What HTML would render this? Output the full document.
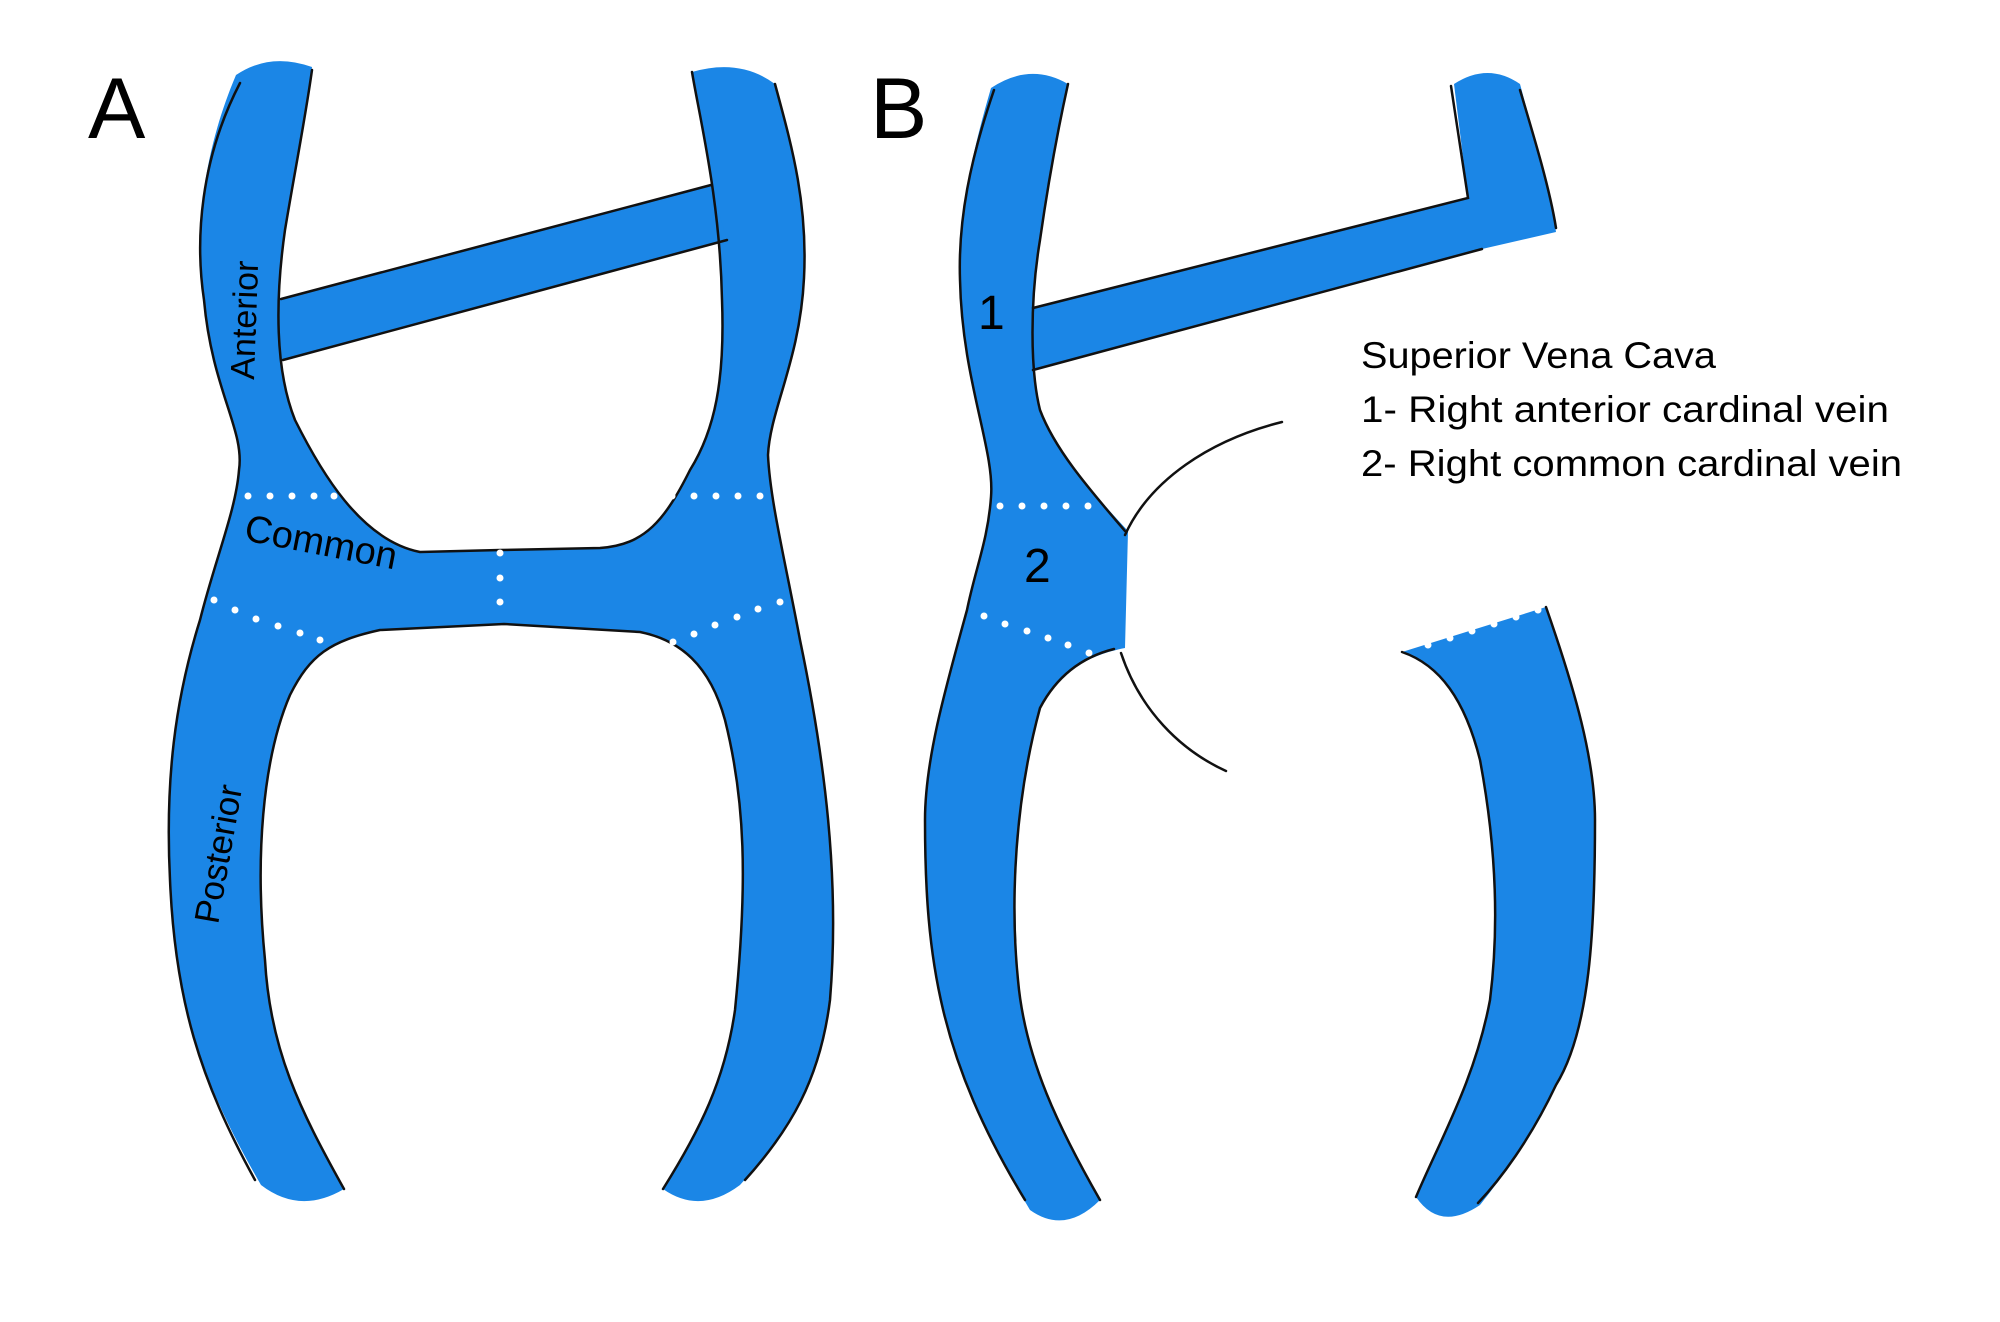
<!DOCTYPE html>
<html><head><meta charset="utf-8"><style>
html,body{margin:0;padding:0;background:#fff;}
svg{display:block;}
text{font-family:"Liberation Sans",sans-serif;fill:#000;}
</style></head><body>
<svg width="2000" height="1322" viewBox="0 0 2000 1322" xmlns="http://www.w3.org/2000/svg">
<g fill="#1b86e6">
<path d="M236,75 C200,160 195,240 204,300 C212,390 245,430 239,470 C236,510 215,560 200,620 C175,700 165,780 170,880 C175,1000 200,1080 261,1185 Q300,1215 344,1189 C300,1110 270,1050 265,960 C255,860 262,760 290,695 C310,655 330,641 380,630 L504,624 L640,632 C680,640 710,665 725,720 C745,800 748,880 735,1010 C725,1080 700,1130 663,1189 Q700,1215 740,1185 C790,1130 820,1080 830,1000 C840,880 825,760 800,640 C785,560 770,500 768,455 C770,410 800,360 804,278 C808,200 790,140 775,84 Q740,58 692,72 C700,120 720,200 722,300 C725,380 715,430 690,470 C665,520 645,545 600,548 L500,550 L420,552 C360,540 320,470 295,420 C275,370 275,300 285,230 C295,170 305,120 312,67 Q270,52 236,75 Z"/>
<path d="M278,299 L711,185 L727,240 L281,360 Z"/>
<path d="M991,88 C970,160 958,220 960,280 C962,380 995,450 991,497 C988,540 975,570 967,610 C945,690 925,760 925,820 C925,960 940,1060 1030,1210 Q1065,1235 1100,1200 C1060,1130 1025,1060 1018,980 C1010,900 1015,800 1040,708 C1060,670 1090,655 1125,648 L1128,531 C1090,490 1055,450 1040,410 C1030,370 1030,300 1040,240 C1050,170 1060,120 1068,84 Q1030,62 991,88 Z"/>
<path d="M1033,308 L1468,198 L1454,84 Q1488,62 1520,84 C1535,140 1550,190 1556,232 L1482,249 L1033,370 Z"/>
<path d="M1402,652 L1546,607 C1575,690 1595,760 1595,820 C1595,930 1590,1030 1556,1085 C1530,1140 1500,1180 1480,1205 Q1440,1232 1416,1197 C1440,1140 1475,1080 1490,1000 C1500,920 1495,840 1480,760 C1465,700 1440,665 1402,652 Z"/>
</g>
<g fill="none" stroke="#111" stroke-width="2.5" stroke-linecap="round">
<path d="M240,83 C200,160 195,240 204,300 C212,390 245,430 239,470 C236,510 215,560 200,620 C175,700 165,780 170,880 C175,1000 200,1080 255,1180"/>
<path d="M312,70 C305,120 295,170 285,230 C275,300 275,370 295,420 C320,470 360,540 420,552 L500,550 L600,548 C645,545 665,520 690,470 C715,430 725,380 722,300 C720,200 700,120 692,72"/>
<path d="M775,84 C790,140 808,200 804,278 C800,360 770,410 768,455 C770,500 785,560 800,640 C825,760 840,880 830,1000 C820,1080 790,1130 745,1180"/>
<path d="M344,1189 C300,1110 270,1050 265,960 C255,860 262,760 290,695 C310,655 330,641 380,630 L504,624 L640,632 C680,640 710,665 725,720 C745,800 748,880 735,1010 C725,1080 700,1130 663,1189"/>
<path d="M281,299 L711,185 M283,360 L727,240"/>
<path d="M994,90 C970,160 958,220 960,280 C962,380 995,450 991,497 C988,540 975,570 967,610 C945,690 925,760 925,820 C925,960 940,1060 1025,1200"/>
<path d="M1068,84 C1060,120 1050,170 1040,240 C1030,300 1030,370 1040,410 C1055,450 1090,490 1125,531"/>
<path d="M1114,649 C1090,655 1060,670 1040,708 C1015,800 1010,900 1018,980 C1025,1060 1060,1130 1100,1200"/>
<path d="M1033,308 L1468,198 L1451,86 M1520,90 C1535,140 1550,190 1556,228 M1033,370 L1482,249"/>
<path d="M1282,422 C1210,440 1150,480 1125,535 M1121,653 C1140,710 1180,750 1226,771"/>
<path d="M1546,607 C1575,690 1595,760 1595,820 C1595,930 1590,1030 1556,1085 C1530,1140 1500,1180 1478,1203"/>
<path d="M1402,652 C1440,665 1465,700 1480,760 C1495,840 1500,920 1490,1000 C1475,1080 1440,1140 1416,1197"/>
</g>
<g fill="#fff">
<circle cx="248" cy="496" r="3.5"/><circle cx="270" cy="496" r="3.5"/><circle cx="292" cy="496" r="3.5"/><circle cx="314" cy="496" r="3.5"/><circle cx="334" cy="496" r="3.5"/>
<circle cx="672" cy="496" r="3.5"/><circle cx="694" cy="496" r="3.5"/><circle cx="716" cy="496" r="3.5"/><circle cx="738" cy="496" r="3.5"/><circle cx="760" cy="496" r="3.5"/>
<circle cx="214" cy="600" r="3.5"/><circle cx="235" cy="610" r="3.5"/><circle cx="256" cy="619" r="3.5"/><circle cx="278" cy="626" r="3.5"/><circle cx="300" cy="633" r="3.5"/><circle cx="320" cy="640" r="3.5"/>
<circle cx="673" cy="642" r="3.5"/><circle cx="694" cy="634" r="3.5"/><circle cx="715" cy="625" r="3.5"/><circle cx="737" cy="617" r="3.5"/><circle cx="758" cy="609" r="3.5"/><circle cx="780" cy="602" r="3.5"/>
<circle cx="500" cy="553" r="3.5"/><circle cx="500" cy="578" r="3.5"/><circle cx="500" cy="602" r="3.5"/>
<circle cx="1000" cy="506" r="3.5"/><circle cx="1022" cy="506" r="3.5"/><circle cx="1044" cy="506" r="3.5"/><circle cx="1066" cy="506" r="3.5"/><circle cx="1088" cy="506" r="3.5"/>
<circle cx="984" cy="616" r="3.5"/><circle cx="1005" cy="624" r="3.5"/><circle cx="1027" cy="631" r="3.5"/><circle cx="1048" cy="638" r="3.5"/><circle cx="1068" cy="645" r="3.5"/><circle cx="1089" cy="653" r="3.5"/>
<circle cx="1428" cy="645" r="3.5"/><circle cx="1450" cy="638" r="3.5"/><circle cx="1472" cy="631" r="3.5"/><circle cx="1494" cy="624" r="3.5"/><circle cx="1516" cy="617" r="3.5"/><circle cx="1538" cy="610" r="3.5"/>
</g>
<text x="88" y="138" font-size="86">A</text>
<text x="870" y="138" font-size="86">B</text>
<text x="0" y="0" font-size="34" transform="translate(254,380) rotate(-88)">Anterior</text>
<text x="0" y="0" font-size="38" transform="translate(243,540) rotate(11)">Common</text>
<text x="0" y="0" font-size="35" transform="translate(218,925) rotate(-80)">Posterior</text>
<text x="978" y="329" font-size="48">1</text>
<text x="1024" y="582" font-size="48">2</text>
<text x="1361" y="368" font-size="37" textLength="355" lengthAdjust="spacingAndGlyphs">Superior Vena Cava</text>
<text x="1361" y="422" font-size="37" textLength="528" lengthAdjust="spacingAndGlyphs">1- Right anterior cardinal vein</text>
<text x="1361" y="476" font-size="37" textLength="541" lengthAdjust="spacingAndGlyphs">2- Right common cardinal vein</text>
</svg>
</body></html>
